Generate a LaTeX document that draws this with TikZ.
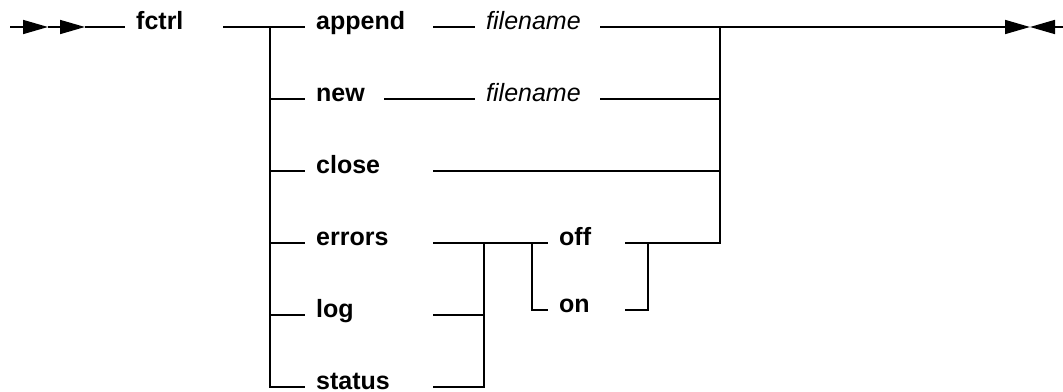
\documentclass[tikz,border=0pt]{standalone}
\usepackage{fontspec}
\setmainfont{Liberation Sans}
\usetikzlibrary{positioning,arrows.meta}
\tikzset{
kw/.style={
font=\fontsize{25}{30}\selectfont\bfseries,
anchor=mid west,
inner xsep=11pt,
inner ysep=0pt,
text width=#1,
align=left
},
kw/.default=106pt,
arg/.style={
kw=103pt,
font=\fontsize{25}{30}\selectfont\itshape
},
rail/.style={
line width=1.6pt
},
arrow/.style={
rail,
-{Triangle[length=25pt,width=14pt]}
}
}

\begin{document}
\begin{tikzpicture}[x=1pt,y=-1pt]

\useasboundingbox (0,0) rectangle (1063,391);

\node[kw=76pt](fctrl) at (125,27){fctrl};

\node[kw](append) at (305,27){append};
\node[kw=57pt](new) at (305,99){new};
\node[kw](close) at (305,171){close};
\node[kw](errors) at (305,243){errors};
\node[kw](log) at (305,315){log};
\node[kw](status) at (305,387){status};

\node[arg](fnA) at (475,27){filename};
\node[arg](fnB) at (475,99){filename};

\node[kw=55pt](off) at (548,243){off};
\node[kw=55pt](on) at (548,310){on};

\coordinate (start) at (10,27);
\coordinate (a1) at (48,27);
\coordinate (a2) at (85,27);
\coordinate (lj) at (270,27);
\coordinate (rj) at (720,27);
\coordinate (mj) at (484,243);
\coordinate (oj) at (532,243);
\coordinate (cj) at (648,243);
\coordinate (tip) at (1030,27);
\coordinate (fin) at (1063,27);

% entry
\draw[arrow](start)--(a1);
\draw[arrow](a1)--(a2);
\draw[rail](a2)--(fctrl.mid west);
\draw[rail](fctrl.mid east)--(append.mid west);

% left rail
\draw[rail](lj)|-(status.mid west);
\foreach \n in {new,close,errors,log}
\draw[rail](lj|-\n.mid west)--(\n.mid west);

% arguments
\draw[rail](append.mid east)--(fnA.mid west);
\draw[rail](new.mid east)--(fnB.mid west);
\draw[rail](errors.mid east)--(off.mid west);
\draw[rail](oj)|-(on.mid west);
\draw[rail](mj)|-(status.mid east);
\draw[rail](log.mid east)--(mj|-log.mid east);
\draw[rail](on.mid east)-|(cj);

% right rail and exit
\draw[rail](fnB.mid east)--(rj|-fnB.mid east);
\draw[rail](close.mid east)--(rj|-close.mid east);
\draw[rail](rj)|-(off.mid east);
\draw[arrow](fnA.mid east)--(tip);
\draw[arrow](fin)--(tip);

\end{tikzpicture}
\end{document}
